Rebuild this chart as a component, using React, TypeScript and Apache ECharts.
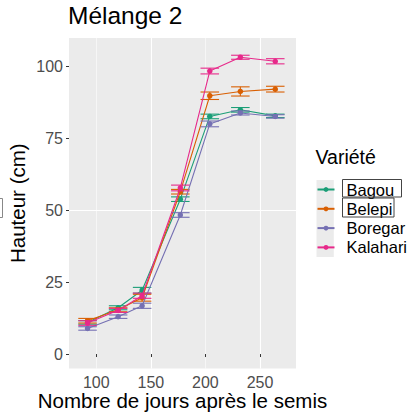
import React, { useEffect, useRef } from "react";
import * as echarts from "echarts";

const days = [92, 120, 142, 177, 204, 232, 264];
const varieties = ["Bagou", "Belepi", "Boregar", "Kalahari"];
const colors = ["#1B9E77", "#D95F02", "#7570B3", "#E7298A"];
const bagou = [11.0, 16.1, 22.2, 53.9, 82.7, 85.0, 82.9];
const belepi = [11.6, 15.4, 19.6, 56.5, 89.9, 91.4, 92.2];
const boregar = [8.9, 13.0, 16.8, 48.4, 80.1, 83.9, 82.7];
const kalahari = [10.8, 15.2, 20.3, 57.8, 98.5, 103.3, 101.9];
const bagouSe = [0.6, 0.7, 1.0, 0.8, 0.8, 0.8, 0.6];
const belepiSe = [0.8, 0.7, 1.2, 0.8, 1.3, 1.6, 1.0];
const boregarSe = [0.6, 0.6, 0.9, 0.8, 1.0, 0.7, 0.6];
const kalahariSe = [0.8, 0.7, 0.9, 1.0, 1.0, 0.7, 0.9];
const xTicks = [100, 150, 200, 250];
const yTicks = [0, 25, 50, 75, 100];

const FONT = "Liberation Sans, Arial, Helvetica, sans-serif";
const CAP = 8.5;

export default function App() {
  const ref = useRef<HTMLDivElement>(null);
  useEffect(() => {
    if (!ref.current) return;
    const chart = echarts.init(ref.current, undefined, { renderer: "svg" });
    const means = [bagou, belepi, boregar, kalahari];
    const ses = [bagouSe, belepiSe, boregarSe, kalahariSe];

    const minorC = "rgba(255,255,255,0.55)";
    const majorC = "#FFFFFF";
    const none = "rgba(0,0,0,0)";
    // x ticks: 75,100,...,275,283
    const xSplitColors = [minorC, majorC, minorC, majorC, minorC, majorC, minorC, majorC, minorC, none];
    // y ticks every 2.5 starting at -5
    const ySplitColors = [none, none, majorC, none, none, none, none, minorC, none, none];

    const series: any[] = [];
    varieties.forEach((name, i) => {
      series.push({
        name: name + " SE",
        type: "custom",
        z: 2 + i * 2,
        data: days.map((d, j) => [d, means[i][j] - ses[i][j], means[i][j] + ses[i][j]]),
        encode: { x: 0, y: [1, 2] },
        renderItem: (params: any, api: any) => {
          const x = api.value(0);
          const lo = api.value(1);
          const hi = api.value(2);
          const pLo = api.coord([x, lo]);
          const pHi = api.coord([x, hi]);
          const l = api.coord([x - CAP, lo]);
          const r = api.coord([x + CAP, lo]);
          const st = { stroke: colors[i], lineWidth: 1.1 };
          return {
            type: "group",
            children: [
              { type: "line", shape: { x1: pLo[0], y1: pLo[1], x2: pHi[0], y2: pHi[1] }, style: st },
              { type: "line", shape: { x1: l[0], y1: pLo[1], x2: r[0], y2: pLo[1] }, style: st },
              { type: "line", shape: { x1: l[0], y1: pHi[1], x2: r[0], y2: pHi[1] }, style: st },
            ],
          };
        },
      });
      series.push({
        name,
        type: "line",
        z: 3 + i * 2,
        data: days.map((d, j) => [d, means[i][j]]),
        symbol: "circle",
        symbolSize: 5.5,
        lineStyle: { color: colors[i], width: 1.1 },
        itemStyle: { color: colors[i] },
      });
    });

    chart.setOption({
      animation: false,
      backgroundColor: "#FFFFFF",
      textStyle: { fontFamily: FONT },
      title: [
        {
          text: "Mélange 2",
          left: 68,
          top: 3,
          padding: 0,
          textStyle: { fontFamily: FONT, fontSize: 24.5, fontWeight: "normal", color: "#000" },
        },
        {
          text: "Variété",
          left: 315.5,
          top: 147,
          padding: 0,
          textStyle: { fontFamily: FONT, fontSize: 19.5, fontWeight: "normal", color: "#000" },
        },
      ],
      grid: {
        left: 69,
        top: 38,
        width: 227,
        height: 330.4,
        show: true,
        backgroundColor: "#EBEBEB",
        borderWidth: 0,
        containLabel: false,
        outerBoundsMode: "none",
      },
      xAxis: {
        type: "value",
        min: 75,
        max: 283,
        interval: 25,
        name: "Nombre de jours après le semis",
        nameLocation: "middle",
        nameGap: 22,
        nameMoveOverlap: false,
        nameTextStyle: { fontFamily: FONT, fontSize: 20.5, color: "#000" },
        axisLine: { show: false },
        axisTick: { show: true, customValues: xTicks, length: 3, lineStyle: { color: "#333333", width: 1 } },
        axisLabel: {
          customValues: xTicks,
          margin: 6,
          fontFamily: FONT,
          fontSize: 16,
          color: "#4D4D4D",
          formatter: (v: number) => (xTicks.indexOf(v) >= 0 ? String(v) : ""),
        },
        splitLine: { show: true, lineStyle: { color: xSplitColors, width: 1.1 } },
      },
      yAxis: {
        type: "value",
        min: -5,
        max: 110,
        interval: 2.5,
        name: "Hauteur (cm)",
        nameLocation: "middle",
        nameRotate: 90,
        nameGap: 41,
        nameMoveOverlap: false,
        nameTextStyle: { fontFamily: FONT, fontSize: 20.5, color: "#000" },
        axisLine: { show: false },
        axisTick: { show: true, customValues: yTicks, length: 3, lineStyle: { color: "#333333", width: 1 } },
        axisLabel: {
          customValues: yTicks,
          margin: 6,
          fontFamily: FONT,
          fontSize: 16,
          color: "#4D4D4D",
          formatter: (v: number) => (yTicks.indexOf(v) >= 0 ? String(v) : ""),
        },
        splitLine: { show: true, lineStyle: { color: ySplitColors, width: 1.1 } },
      },
      legend: {
        data: varieties,
        orient: "vertical",
        left: 316.5,
        top: 181,
        padding: 0,
        itemGap: 2.3,
        itemWidth: 17,
        itemHeight: 6,
        selectedMode: false,
        textStyle: { fontFamily: FONT, fontSize: 16.5, color: "#000", padding: [0, 0, 0, 7] },
      },
      graphic: [
        { type: "rect", z: 0, shape: { x: 316.5, y: 180, width: 17.3, height: 77 }, style: { fill: "#EBEBEB" } },
        { type: "rect", z: 100, shape: { x: 342.5, y: 179.5, width: 59, height: 17.5 }, style: { fill: "none", stroke: "#444", lineWidth: 1 } },
        { type: "rect", z: 100, shape: { x: 342.5, y: 198, width: 51.5, height: 19 }, style: { fill: "none", stroke: "#444", lineWidth: 1 } },
        { type: "rect", z: 100, shape: { x: -20, y: 198.5, width: 22.5, height: 19 }, style: { fill: "none", stroke: "#888", lineWidth: 1 } },
      ],
      series,
    });
    return () => chart.dispose();
  }, []);
  return <div ref={ref} style={{ width: 411, height: 412, position: "absolute", left: 0, top: 0 }} />;
}
